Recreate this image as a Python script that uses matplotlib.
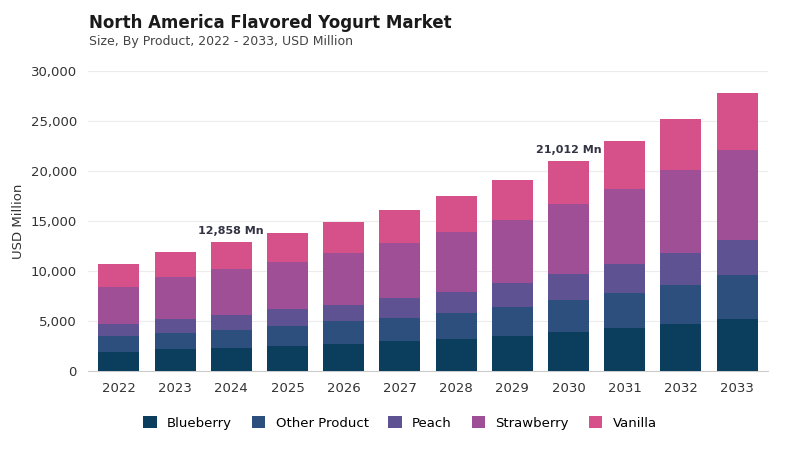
import matplotlib.pyplot as plt
import numpy as np

years = ["2022","2023","2024","2025","2026","2027","2028","2029","2030","2031","2032","2033"]
series = ["Blueberry","Other Product","Peach","Strawberry","Vanilla"]
# cumulative tops
blueberry = [1900,2200,2300,2500,2700,3000,3200,3500,3900,4300,4700,5200]
other_cum = [3500,3800,4100,4500,5000,5300,5800,6400,7100,7800,8600,9600]
peach_cum = [4700,5200,5600,6200,6600,7300,7900,8800,9700,10700,11800,13100]
straw_cum = [8400,9400,10200,10900,11800,12800,13900,15100,16700,18200,20100,22100]
totals = [10700,11900,12858,13800,14900,16100,17500,19100,21012,23000,25200,27800]
colors = ["#0b3d5c","#2d4f7e","#5e5293","#9f4f96","#d6508a"]

cums = [blueberry, other_cum, peach_cum, straw_cum, totals]
fig = plt.figure(figsize=(8,4.5), dpi=100)
ax = fig.add_axes([0.11,0.176,0.85,0.666])
x = np.arange(len(years))
prev = np.zeros(len(years))
for name, c, col in zip(series, cums, colors):
    c = np.array(c, float)
    ax.bar(x, c-prev, bottom=prev, width=0.73, color=col, label=name, zorder=3)
    prev = c
for i in (2, 8):
    ax.text(x[i], totals[i]+600, f"{totals[i]:,} Mn", ha="center", va="bottom", fontsize=8, color="#333344", fontweight="semibold")
ax.set_ylim(0,30000)
ax.set_xlim(-0.55, len(years)-0.45)
ax.set_yticks(range(0,30001,5000))
ax.set_yticklabels([f"{v:,}" for v in range(0,30001,5000)], fontsize=9.5, color="#333333")
ax.set_xticks(x)
ax.set_xticklabels(years, fontsize=9.5, color="#333333")
ax.grid(axis="y", color="#ececec", lw=0.8, zorder=0)
for s in ["top","right","left"]:
    ax.spines[s].set_visible(False)
ax.spines["bottom"].set_color("#cccccc")
ax.tick_params(length=0, pad=8)
ax.set_ylabel("USD Million", fontsize=9.5, color="#333333")
fig.text(0.111, 0.95, "North America Flavored Yogurt Market", fontsize=12, fontweight="bold", color="#1a1a1a", va="center")
fig.text(0.111, 0.907, "Size, By Product, 2022 - 2033, USD Million", fontsize=9, color="#444444", va="center")
leg = fig.legend(loc="center", bbox_to_anchor=(0.5, 0.06), ncol=5, frameon=False, fontsize=9.5,
                 handlelength=1.0, handleheight=1.0, columnspacing=1.5)
for h in leg.legend_handles:
    h.set_linewidth(0)
plt.savefig("out.png", dpi=100)
